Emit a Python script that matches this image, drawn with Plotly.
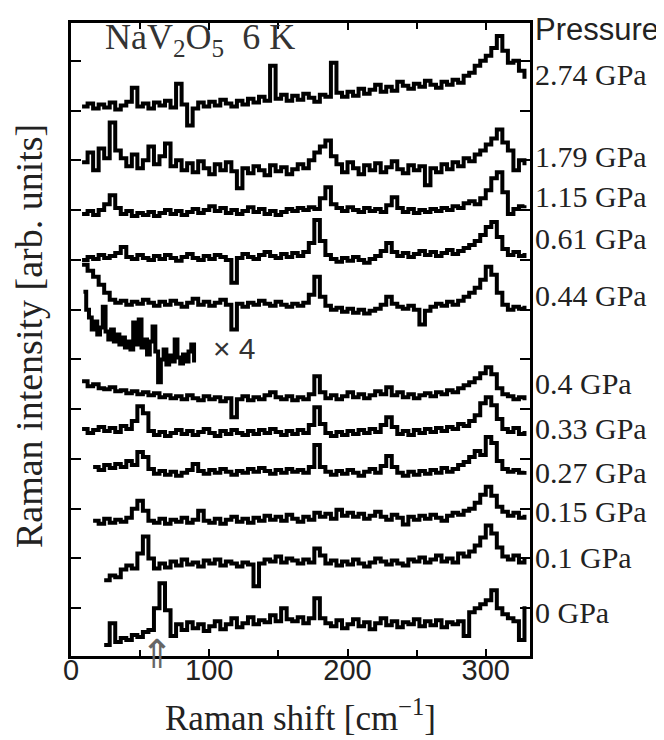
import numpy as np
import plotly.graph_objects as go

# ---------------- data ----------------
# Raman shift start [cm^-1] and sampling step for each spectrum
shift_start = {"0 GPa": 24, "0.1 GPa": 24, "0.15 GPa": 16, "0.27 GPa": 16, "0.33 GPa": 8,
               "0.4 GPa": 8, "x4": 9, "0.44 GPa": 8, "0.61 GPa": 8, "1.15 GPa": 8,
               "1.79 GPa": 8, "2.74 GPa": 8}
shift_step = {"0 GPa": 4, "0.1 GPa": 4, "0.15 GPa": 4, "0.27 GPa": 4, "0.33 GPa": 4,
              "0.4 GPa": 4, "x4": 2, "0.44 GPa": 4, "0.61 GPa": 4, "1.15 GPa": 4,
              "1.79 GPa": 4, "2.74 GPa": 4}
# vertical offsets of the stacked spectra [arb. units]
offsets = {"0 GPa": -0.8, "0.1 GPa": 0.5, "0.15 GPa": 1.6, "0.27 GPa": 2.6, "0.33 GPa": 3.4,
           "0.4 GPa": 4.1, "x4": 4.8, "0.44 GPa": 5.9, "0.61 GPa": 6.9, "1.15 GPa": 7.8,
           "1.79 GPa": 8.6, "2.74 GPa": 10.0}
count_scale = 0.02  # arb. units per count

i_0 = [3, 25, 6, 10, 8, 13, 11, 16, 18, 40, 65, 38, 12, 24, 18, 26, 20, 24, 17, 22,
       27, 19, 24, 30, 21, 25, 31, 24, 28, 26, 33, 27, 40, 29, 27, 31, 25, 30, 50, 30,
       25, 22, 28, 20, 24, 29, 22, 26, 19, 25, 30, 23, 27, 21, 26, 24, 29, 22, 27, 23,
       28, 21, 26, 24, 27, 12, 36, 40, 44, 48, 58, 40, 34, 30, 27, 8, 42]
i_010 = [3, 8, 6, 14, 18, 15, 30, 47, 25, 15, 20, 16, 22, 18, 24, 19, 21, 17, 23, 20,
         24, 18, 22, 20, 17, 21, 19, -3, 20, 24, 22, 27, 21, 25, 23, 20, 24, 21, 35, 28,
         20, 23, 18, 22, 19, 24, 20, 17, 21, 25, 22, 19, 23, 20, 18, 24, 22, 26, 21, 24,
         28, 22, 25, 21, 30, 27, 32, 38, 46, 58, 50, 36, 27, 24, 28, 21, 25]
i_015 = [8, 5, 10, 6, 9, 7, 11, 20, 28, 18, 8, 6, 10, 5, 9, 7, 11, 6, 9, 18,
         8, 6, 10, 5, 9, 12, 7, 10, 6, 11, 8, 13, 9, 12, 8, 14, 10, 7, 12, 9,
         16, 12, 15, 10, 19, 13, 16, 12, 15, 10, 13, 17, 12, 9, 14, 11, 4, 12, 9, 13,
         10, 14, 11, 8, 13, 16, 14, 18, 20, 26, 34, 42, 33, 22, 17, 13, 16, 11, 14]
i_027 = [12, 9, 14, 11, 15, 12, 18, 14, 27, 22, 10, 5, 8, 4, 7, 3, 6, 9, 15, 8,
         5, 9, 6, 10, 7, 4, 8, 6, 10, 7, 11, 8, 5, 9, 6, 10, 7, 9, 6, 12,
         34, 12, 7, 4, 8, 5, 9, 6, 3, 7, 10, 6, 13, 23, 12, 6, 3, 7, 4, 8,
         5, 9, 6, 11, 7, 10, 14, 17, 22, 28, 24, 42, 36, 18, 10, 7, 9, 6, 8]
i_033 = [10, 6, 9, 12, 8, 11, 7, 13, 10, 18, 33, 26, 8, 4, 7, 3, 6, 9, 5, 8,
         4, 7, 10, 6, 3, 8, 5, 9, 6, 4, 8, 5, 9, 6, 10, 7, 4, 8, 5, 9,
         6, 14, 32, 15, 6, 3, 7, 4, 8, 5, 9, 6, 10, 7, 14, 22, 12, 5, 8, 4,
         9, 6, 10, 7, 11, 8, 12, 10, 15, 13, 18, 24, 36, 42, 34, 20, 10, 7, 11, 5, 8]
i_040 = [23, 18, 20, 16, 15, 17, 13, 14, 11, 13, 10, 12, 9, 11, 7, 9, 6, 8, 5, 9,
         6, 4, 8, 5, 7, 3, 6, -13, 5, 8, 4, 7, 5, 9, 12, 7, 5, 8, 4, 7,
         5, 10, 28, 12, 6, 9, 5, 8, 12, 7, 10, 6, 9, 13, 10, 17, 9, 12, 7, 10,
         6, 9, 11, 8, 12, 10, 14, 12, 16, 19, 22, 26, 31, 37, 30, 16, 10, 8, 5, 7, 4]
i_x4 = [78, 60, 52, 40, 48, 35, 42, 63, 38, 30, 40, 28, 35, 25, 32, 22, 28, 20, 47, 25,
        50, 22, 30, 15, 28, 43, 18, -13, 10, 20, 5, 14, 8, 30, 12, 6, 15, 8, 18, 25, 7]
i_044 = [50, 44, 38, 30, 22, 15, 12, 14, 10, 13, 11, 15, 12, 9, 13, 10, 14, 11, 8, 12,
         16, 10, 13, 9, 12, 15, 10, -15, 11, 8, 12, 10, 14, 11, 9, 13, 10, 8, 11, 9,
         12, 20, 38, 18, 9, 5, 7, 3, 6, 2, 5, 1, 4, 6, 10, 18, 11, 8, 6, 9,
         5, -10, 4, 8, 11, 9, 13, 10, 14, 18, 22, 27, 35, 48, 40, 22, 10, 5, 8, 6, 9]
i_061 = [5, 8, 6, 10, 7, 9, 12, 18, 8, 6, 10, 7, 5, 9, 6, 10, 7, 4, 8, 11,
         7, 5, 9, 6, 10, 8, 5, -18, 7, 11, 8, 6, 10, 13, 9, 7, 11, 8, 12, 9,
         13, 22, 45, 24, 10, 6, 3, 7, 4, 8, 5, 2, 6, 9, 14, 22, 13, 9, 12, 8,
         11, 14, 10, 13, 9, 12, 15, 11, 14, 17, 20, 24, 30, 38, 43, 28, 16, 10, 13, 9, 12]
i_115 = [6, 9, 5, 10, 16, 25, 12, 6, 9, 4, 7, 5, 8, 4, 7, 10, 6, 9, 5, 8,
         11, 7, 10, 14, 9, 12, 7, 10, 6, 9, 13, 8, 11, 6, 9, 5, 8, 11, 9, 12,
         10, 13, 11, 22, 33, 16, 12, 9, 13, 10, 8, 12, 9, 11, 8, 15, 23, 12, 8, 11,
         7, 10, 8, 11, 9, 12, 10, 14, 12, 17, 19, 16, 22, 30, 42, 48, 28, 6, 11, 14, 15]
i_179 = [18, 28, 10, 32, 22, 58, 30, 22, 14, 26, 12, 20, 34, 16, 24, 37, 14, 20, 10, 17,
         8, 19, 12, 6, 16, 10, 18, 9, -8, 12, 7, 14, 10, 5, 15, 9, 13, 6, 11, 16,
         12, 20, 28, 34, 40, 24, 16, 8, 18, 12, 6, 15, 10, 17, 8, 13, 19, 11, 7, 15,
         10, 14, -5, 12, 8, 16, 11, 18, 14, 22, 19, 26, 30, 36, 42, 51, 38, 30, 10, 20, 15]
i_274 = [4, 7, 2, 6, 3, 8, 1, 5, 9, 23, 4, 7, 2, 8, 5, 10, 3, 27, 6, -15,
         2, 8, 4, 9, 5, 11, 7, 4, 10, 6, 12, 8, 14, 10, 45, 12, 16, 10, 15, 11,
         17, 13, 9, 16, 14, 48, 18, 14, 19, 15, 22, 17, 21, 26, 19, 24, 20, 29, 25, 22,
         27, 24, 30, 26, 23, 29, 26, 31, 28, 35, 38, 45, 50, 55, 63, 75, 60, 48, 50, 40, 32]

counts = {"0 GPa": i_0, "0.1 GPa": i_010, "0.15 GPa": i_015, "0.27 GPa": i_027,
          "0.33 GPa": i_033, "0.4 GPa": i_040, "x4": i_x4, "0.44 GPa": i_044,
          "0.61 GPa": i_061, "1.15 GPa": i_115, "1.79 GPa": i_179, "2.74 GPa": i_274}

pressure_labels = ["2.74 GPa", "1.79 GPa", "1.15 GPa", "0.61 GPa", "0.44 GPa", "0.4 GPa",
                   "0.33 GPa", "0.27 GPa", "0.15 GPa", "0.1 GPa", "0 GPa"]
# label heights (layout), in axis units
label_y = [10.54, 8.9, 8.1, 7.24, 6.1, 4.34, 3.44, 2.54, 1.76, 0.84, -0.26]

x_ticks = [0, 100, 200, 300]

# ---------------- figure ----------------
fig = go.Figure()
for name, c in counts.items():
    c = np.asarray(c, dtype=float)
    x = shift_start[name] + shift_step[name] * np.arange(len(c))
    y = offsets[name] + c * count_scale
    fig.add_trace(go.Scatter(x=x, y=y, mode="lines", line=dict(color="black", width=4, shape="hv"),
                             showlegend=False, hoverinfo="skip"))

serif = "Liberation Serif, Times New Roman, serif"
sans = "Liberation Sans, Arial, sans-serif"

ann = []
for lab, yy in zip(pressure_labels, label_y):
    ann.append(dict(x=1, xref="paper", y=yy, yref="y", text=lab, showarrow=False,
                    xanchor="left", yanchor="middle", xshift=3, yshift=9,
                    font=dict(family=serif, size=30, color="#222")))
ann.append(dict(x=1, xref="paper", y=11.44, yref="y", text="Pressure", showarrow=False,
                xanchor="left", yanchor="middle", xshift=3, yshift=9,
                font=dict(family=sans, size=31, color="#222")))
ann.append(dict(x=23, xref="x", y=11.45, yref="y",
                text="NaV<sub>2</sub>O<sub>5</sub>\u00a0 6 K", showarrow=False,
                xanchor="left", yanchor="middle", yshift=-1,
                font=dict(family=serif, size=36, color="#333")))
ann.append(dict(x=118, xref="x", y=5.04, yref="y", text="\u00d7 4", showarrow=False,
                xanchor="center", yanchor="middle", yshift=9,
                font=dict(family=sans, size=30, color="#333")))
ann.append(dict(x=62, xref="x", y=0, yref="paper", text="\u21d1", showarrow=False,
                xanchor="center", yanchor="middle", yshift=2,
                font=dict(family="DejaVu Sans", size=40, color="#666")))
ann.append(dict(x=-0.09, xref="paper", y=0.505, yref="paper",
                text="Raman intensity [arb. units]", showarrow=False, textangle=-90,
                xanchor="center", yanchor="middle",
                font=dict(family=serif, size=38, color="#222")))
ann.append(dict(x=0.5, xref="paper", y=0, yref="paper",
                text="Raman shift [cm<sup>\u22121</sup>]", showarrow=False,
                xanchor="center", yanchor="middle", yshift=-59,
                font=dict(family=serif, size=35, color="#222")))

fig.update_layout(
    width=664, height=740,
    margin=dict(l=63, r=142, t=12, b=92),
    paper_bgcolor="white", plot_bgcolor="white",
    annotations=ann,
    xaxis=dict(range=[0, 332], tickvals=x_ticks, ticktext=[str(v) for v in x_ticks],
               ticks="inside", ticklen=7, tickwidth=2, tickcolor="black",
               minor=dict(dtick=50, tick0=0, ticks="inside", ticklen=6, tickwidth=2, tickcolor="black"),
               showline=True, linewidth=3, linecolor="black", mirror="ticks",
               showgrid=False, zeroline=False, ticklabelstandoff=-14,
               tickfont=dict(family=sans, size=29, color="#222")),
    yaxis=dict(range=[-0.96, 11.76], dtick=1, tick0=0, ticks="inside", ticklen=10, tickwidth=2,
               tickcolor="black", showticklabels=False,
               showline=True, linewidth=3, linecolor="black", mirror="ticks",
               showgrid=False, zeroline=False),
)

fig.write_html("out.html")
